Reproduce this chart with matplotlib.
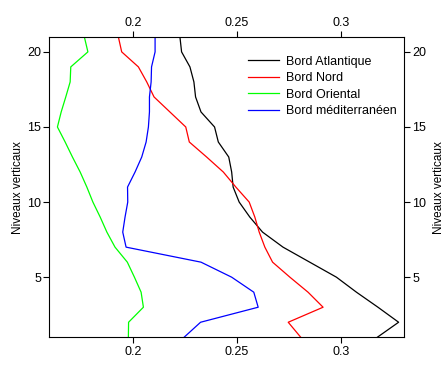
import numpy as np
import matplotlib.pyplot as plt

plt.rcParams['font.family'] = ['Liberation Sans', 'DejaVu Sans']

niveaux = np.arange(1, 22)

atlantique = [0.3172, 0.3274, 0.3175, 0.3072, 0.2976, 0.2848, 0.2720, 0.2622,
              0.2561, 0.2510, 0.2481, 0.2474, 0.2460, 0.2410, 0.2392, 0.2327,
              0.2301, 0.2293, 0.2274, 0.2234, 0.2226]
nord = [0.2805, 0.2745, 0.2912, 0.2840, 0.2753, 0.2670, 0.2633, 0.2606,
        0.2585, 0.2558, 0.2494, 0.2434, 0.2354, 0.2271, 0.2254, 0.2178,
        0.2102, 0.2067, 0.2027, 0.1947, 0.1931]
oriental = [0.1979, 0.1980, 0.2051, 0.2040, 0.2008, 0.1974, 0.1915, 0.1876,
            0.1844, 0.1809, 0.1780, 0.1748, 0.1711, 0.1676, 0.1639, 0.1657,
            0.1679, 0.1700, 0.1703, 0.1785, 0.1768]
mediterraneen = [0.2246, 0.2325, 0.2601, 0.2580, 0.2474, 0.2327, 0.1968, 0.1952,
                 0.1963, 0.1976, 0.1975, 0.2011, 0.2043, 0.2064, 0.2075, 0.2080,
                 0.2080, 0.2088, 0.2090, 0.2107, 0.2107]

series = [(atlantique, 'black', 'Bord Atlantique'),
          (nord, 'red', 'Bord Nord'),
          (oriental, '#00ff00', 'Bord Oriental'),
          (mediterraneen, 'blue', 'Bord méditerranéen')]

fig = plt.figure(figsize=(4.44, 3.65), dpi=100)
ax = fig.add_axes([0.111, 0.076, 0.799, 0.823])

for vals, col, lab in series:
    ax.plot(vals, niveaux, color=col, lw=0.9, label=lab)

ax.set_xlim(0.160, 0.330)
ax.set_ylim(1, 21)
ax.set_xticks([0.2, 0.25, 0.3])
ax.set_xticklabels(['0.2', '0.25', '0.3'])
ax.set_yticks([5, 10, 15, 20])
ax.tick_params(direction='out', length=4, width=0.8, labelsize=9,
               top=True, right=True, labeltop=True, labelright=True, pad=2)
for s in ax.spines.values():
    s.set_linewidth(0.8)

# axis titles on both sides
fig.text(0.040, 0.487, 'Niveaux verticaux', rotation=90, fontsize=8.5,
         ha='center', va='center')
fig.text(0.988, 0.487, 'Niveaux verticaux', rotation=90, fontsize=8.5,
         ha='center', va='center')

ax.legend(loc='upper right', frameon=False, fontsize=9, handlelength=2.5,
          handletextpad=0.6, labelspacing=0.36, bbox_to_anchor=(1.012, 0.975))

fig.savefig('out.png', dpi=100)
